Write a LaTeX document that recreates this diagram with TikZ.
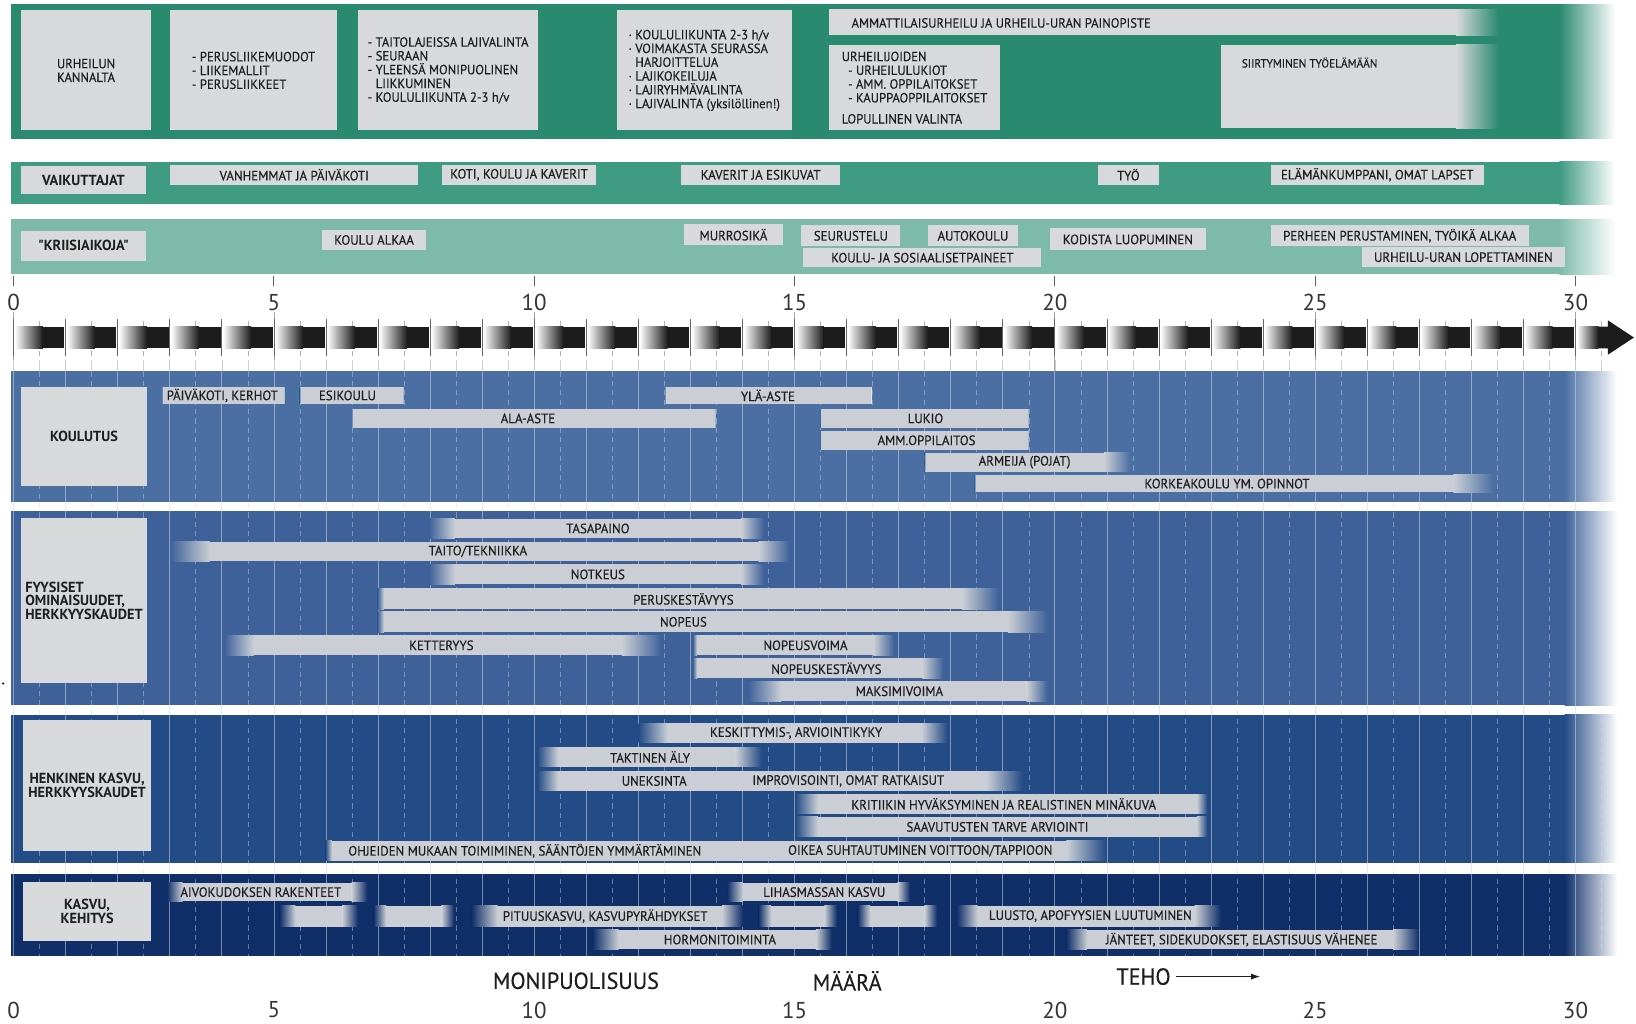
\documentclass[tikz,border=0pt]{standalone}
\usepackage{fontspec}
\setmainfont{PT Sans}
\newfontfamily\cond{PT Sans}[FakeStretch=0.95, FakeBold=0.3]
\newfontfamily\condb{PT Sans}[FakeStretch=0.98]
\usetikzlibrary{arrows.meta}

\definecolor{gTop}{HTML}{2A8A70}
\definecolor{gMid}{HTML}{3F9B81}
\definecolor{gLow}{HTML}{7DBBA8}
\definecolor{bA}{HTML}{4B6FA3}
\definecolor{bB}{HTML}{3E6199}
\definecolor{bC}{HTML}{234B86}
\definecolor{bD}{HTML}{102F69}
\definecolor{boxg}{HTML}{D7D9DA}
\definecolor{barg}{HTML}{CBCFD5}
\definecolor{ink}{HTML}{1E1E1E}
\definecolor{segk}{HTML}{1C1C1C}
\definecolor{gridc}{HTML}{D0D8E6}

% band with a soft fade to white on the right
\newcommand\band[6]{%
  \fill[#1] (#2,#5) rectangle (#3,#6);
  \shade[left color=#1,right color=white] ({#3-0.5},#5) rectangle (#4,#6);}
% grey bar: background colour, x1, fade-in width, x2, fade-out width, y1, y2
\newcommand\fbar[7]{%
  \fill[barg] ({#2+#3-0.5},#6) rectangle ({#4-#5+0.5},#7);
  \shade[left color=#1,right color=barg] (#2,#6) rectangle ({#2+#3},#7);
  \shade[left color=barg,right color=#1] ({#4-#5},#6) rectangle (#4,#7);}

\begin{document}
\begin{tikzpicture}[x=1pt,y=-1pt,
  lbl/.style={inner sep=0pt, text=ink, font=\cond\fontsize{13}{14}\selectfont},
  small/.style={inner sep=0pt, text=ink, font=\cond\fontsize{12.8}{13.2}\selectfont},
  hdr/.style={fill=boxg, inner sep=0pt, text=ink, font=\condb\bfseries\fontsize{14}{13}\selectfont, align=center},
  gbox/.style={fill=boxg, inner sep=0pt, text=ink, font=\cond\fontsize{12.8}{13.2}\selectfont, align=left},
  kbox/.style={fill=boxg, inner sep=0pt, text=ink, font=\cond\fontsize{13}{13}\selectfont},
  num/.style={inner sep=0pt, text=ink!90, font=\fontsize{22}{24}\selectfont},
  word/.style={inner sep=0pt, text=ink, font=\cond\fontsize{22.3}{24}\selectfont},
  gridint/.style={draw=gridc, opacity=0.55, line width=0.7},
  gridhalf/.style={draw=gridc, opacity=0.45, line width=0.6, dash pattern=on 5pt off 4pt},
]
\useasboundingbox (0,0) rectangle (1568,981);
\fill[white] (0,0) rectangle (1568,981);

% ---------- coloured bands ----------
\band{gTop}{11}{1495}{1548}{4}{133}
\band{gMid}{11}{1495}{1548}{155}{196}
\band{gLow}{11}{1495}{1548}{210}{263}
\band{bA}{11}{1500}{1550}{356}{481}
\band{bB}{11}{1500}{1550}{490}{676}
\band{bC}{11}{1500}{1550}{685}{827}
\band{bD}{11}{1500}{1550}{838}{916}

% ---------- top band: sport perspective ----------
\node[gbox, align=center, minimum width=125, minimum height=115] (urheilun) at (82.5,67.5) {URHEILUN\\KANNALTA};
\node[gbox, minimum width=160, minimum height=115] (perus) at (243,67.5)
  {- PERUSLIIKEMUODOT\\- LIIKEMALLIT\\- PERUSLIIKKEET};
\node[gbox, minimum width=173, minimum height=115] (taitolaji) at (429.5,67.5)
  {- TAITOLAJEISSA LAJIVALINTA\\- SEURAAN\\- YLEENSÄ MONIPUOLINEN\\\phantom{- }LIIKKUMINEN\\- KOULULIIKUNTA 2-3 h/v};
\node[gbox, minimum width=168, minimum height=115] (lajivalinta) at (675,67.5)
  {· KOULULIIKUNTA 2-3 h/v\\· VOIMAKASTA SEURASSA\\\phantom{· }HARJOITTELUA\\· LAJIKOKEILUJA\\· LAJIRYHMÄVALINTA\\· LAJIVALINTA (yksilöllinen!)};
\fill[boxg] (795,9) rectangle (1396,34);
\shade[left color=boxg,right color=gTop] (1395.5,9) rectangle (1436,34);
\node[small, anchor=west] (ammatti) at (816,22) {AMMATTILAISURHEILU JA URHEILU-URAN PAINOPISTE};
\node[gbox, minimum width=163, minimum height=82] (urheilijat) at (876.5,84)
  {URHEILIJOIDEN\\\hspace{6pt}- URHEILULUKIOT\\\hspace{6pt}- AMM. OPPILAITOKSET\\\hspace{6pt}- KAUPPAOPPILAITOKSET\\[7pt]LOPULLINEN VALINTA};
\fill[boxg] (1170,43) rectangle (1396,123);
\shade[left color=boxg,right color=gTop] (1395.5,43) rectangle (1436,123);
\node[inner sep=0pt, text=ink, font=\cond\fontsize{11.4}{13}\selectfont, anchor=west] (siirtyminen) at (1190,60) {SIIRTYMINEN TYÖELÄMÄÄN};

% ---------- influencers ----------
\node[hdr, minimum width=120, minimum height=27] (vaikuttajat) at (80,172.5) {VAIKUTTAJAT};
\node[kbox, minimum width=238, minimum height=19] (vanhemmat) at (282,167.5) {VANHEMMAT JA PÄIVÄKOTI};
\node[kbox, minimum width=147, minimum height=19] (koti) at (497.5,167.5) {KOTI, KOULU JA KAVERIT};
\node[kbox, minimum width=152, minimum height=19] (kaverit) at (729,167.5) {KAVERIT JA ESIKUVAT};
\node[kbox, minimum width=59, minimum height=19] (tyo) at (1081.5,167.5) {TYÖ};
\node[kbox, minimum width=204, minimum height=19] (kumppani) at (1320,167.5) {ELÄMÄNKUMPPANI, OMAT LAPSET};

% ---------- crisis periods ----------
\node[hdr, minimum width=120, minimum height=29] (kriisi) at (80,235.5) {"KRIISIAIKOJA"};
\node[kbox, minimum width=99, minimum height=20] (koulualkaa) at (358.5,230) {KOULU ALKAA};
\node[kbox, minimum width=94, minimum height=20] (murrosika) at (703,225) {MURROSIKÄ};
\node[kbox, minimum width=95, minimum height=20] (seurustelu) at (815.5,226) {SEURUSTELU};
\node[kbox, minimum width=87, minimum height=20] (autokoulu) at (932.5,226) {AUTOKOULU};
\node[kbox, minimum width=228, minimum height=18] (paineet) at (884,247) {KOULU- JA SOSIAALISETPAINEET};
\node[kbox, minimum width=150, minimum height=21] (kodista) at (1081,229.5) {KODISTA LUOPUMINEN};
\node[kbox, minimum width=247, minimum height=20] (perhe) at (1341.5,226) {PERHEEN PERUSTAMINEN, TYÖIKÄ ALKAA};
\node[kbox, minimum width=195, minimum height=19] (lopetus) at (1402.5,246.5) {URHEILU-URAN LOPETTAMINEN};

% ---------- age axis ----------
\foreach \i in {0,5,...,30}{
  \pgfmathsetmacro\gx{13+49.9*\i}
  \draw[ink!70, line width=0.9] (\gx,265) -- (\gx,274);
  \draw[gray!70, line width=0.7] (\gx,299) -- (\gx,356);
  \node[num] (top\i) at (\gx,290) {\i};
  \node[num] (bot\i) at (\gx,968) {\i};
}
\foreach \i in {0,...,30}{
  \pgfmathsetmacro\gx{13+49.9*\i}
  \pgfmathsetmacro\hx{13+49.9*\i+24.95}
  \draw[gray!80!black, line width=0.7] (\gx,306) -- (\gx,341);
  \draw[gray!40, line width=0.6] (\gx,345) -- (\gx,356);
  \draw[gray!60, line width=0.6] (\hx,308) -- (\hx,312) (\hx,336) -- (\hx,341);
  \draw[gray!35, line width=0.6] (\hx,345) -- (\hx,356);
}
\foreach \i in {0,...,29}{
  \pgfmathsetmacro\sa{13+49.9*\i+1.2}
  \pgfmathsetmacro\sm{13+49.9*\i+28}
  \pgfmathsetmacro\sb{13+49.9*(\i+1)-1.2}
  \shade[left color=white,right color=segk] (\sa,313) rectangle (\sm,334);
  \fill[segk] ({\sm-0.3},313) rectangle (\sb,334);
}
\shade[left color=white,right color=segk] (1511.2,313) rectangle (1532,334);
\fill[segk] (1531.7,313) -- (1541,313) -- (1541,307) -- (1566,323.5) -- (1541,340) -- (1541,334) -- (1531.7,334) -- cycle;

% ---------- year grid over the lower bands ----------
\foreach \i in {0,...,30}{
  \pgfmathsetmacro\gx{13+49.9*\i}
  \pgfmathsetmacro\hx{13+49.9*\i+24.95}
  \draw[gridint] (\gx,356) -- (\gx,916);
  \draw[gridhalf] (\hx,356) -- (\hx,916);
}

% ---------- education ----------
\node[hdr, minimum width=121, minimum height=95] (koulutus) at (80.5,418.5) {KOULUTUS};
\fbar{bA}{155}{1}{273}{1}{371}{387}
\fbar{bA}{287}{1}{387}{1}{371}{387}
\fbar{bA}{637}{1}{836}{1}{371}{387}
\fbar{bA}{337}{1}{686}{1}{392}{410}
\fbar{bA}{786}{1}{986}{1}{392}{410}
\fbar{bA}{786}{1}{986}{1}{413}{431}
\fbar{bA}{886}{1}{1083}{25}{434}{452}
\fbar{bA}{934}{1}{1431}{38}{455}{472}
\node[lbl] (paivakoti) at (213,379) {PÄIVÄKOTI, KERHOT};
\node[lbl] (esikoulu) at (333,379) {ESIKOULU};
\node[lbl] (ylaaste) at (736,379) {YLÄ-ASTE};
\node[lbl] (alaaste) at (506,401) {ALA-ASTE};
\node[lbl] (lukio) at (887,401) {LUKIO};
\node[lbl] (amm) at (888,422) {AMM.OPPILAITOS};
\node[lbl] (armeija) at (982,443) {ARMEIJA (POJAT)};
\node[lbl] (korkeakoulu) at (1176,463.5) {KORKEAKOULU YM. OPINNOT};

% ---------- physical abilities ----------
\node[hdr, align=left, minimum width=121, minimum height=159] (fyysiset) at (80.5,575.5) {FYYSISET\\OMINAISUUDET,\\HERKKYYSKAUDET};
\fbar{bB}{411}{25}{732}{22}{497}{516}
\fbar{bB}{163}{38}{757}{30}{519}{538}
\fbar{bB}{411}{25}{732}{22}{541}{560}
\fbar{bB}{362}{6}{957}{35}{564}{584}
\fbar{bB}{362}{6}{1004}{38}{586}{606}
\fbar{bB}{215}{28}{634}{38}{609}{628}
\fbar{bB}{664}{4}{857}{20}{609}{628}
\fbar{bB}{664}{4}{904}{20}{631}{650}
\fbar{bB}{717}{32}{1004}{20}{653}{672}
\node[lbl] (tasapaino) at (573,506.5) {TASAPAINO};
\node[lbl] (taito) at (458,528.5) {TAITO/TEKNIIKKA};
\node[lbl] (notkeus) at (573,550.5) {NOTKEUS};
\node[lbl] (peruskest) at (655,574) {PERUSKESTÄVYYS};
\node[lbl] (nopeus) at (655,596) {NOPEUS};
\node[lbl] (ketteryys) at (423,618.5) {KETTERYYS};
\node[lbl] (nopeusvoima) at (772,618.5) {NOPEUSVOIMA};
\node[lbl] (nopeuskest) at (792,640.5) {NOPEUSKESTÄVYYS};
\node[lbl] (maksimivoima) at (862,662.5) {MAKSIMIVOIMA};

% ---------- mental growth ----------
\node[hdr, minimum width=123, minimum height=126] (henkinen) at (83.5,753) {HENKINEN KASVU,\\HERKKYYSKAUDET};
\fbar{bC}{612}{28}{908}{25}{693}{712}
\fbar{bC}{515}{20}{730}{25}{716}{735}
\fbar{bC}{515}{20}{980}{35}{739}{758}
\fbar{bC}{762}{22}{1157}{10}{761}{780}
\fbar{bC}{762}{22}{1157}{10}{783}{802}
\fbar{bC}{312}{6}{1060}{38}{806}{825}
\node[lbl] (keskittyminen) at (763,702.5) {KESKITTYMIS-, ARVIOINTIKYKY};
\node[lbl] (taktinen) at (623,725.5) {TAKTINEN ÄLY};
\node[lbl] (uneksinta) at (627,748.5) {UNEKSINTA};
\node[lbl] (improvisointi) at (813,748.5) {IMPROVISOINTI, OMAT RATKAISUT};
\node[lbl] (kritiikki) at (962,770.5) {KRITIIKIN HYVÄKSYMINEN JA REALISTINEN MINÄKUVA};
\node[lbl] (saavutukset) at (956,792.5) {SAAVUTUSTEN TARVE ARVIOINTI};
\node[lbl] (ohjeet) at (503,815.5) {OHJEIDEN MUKAAN TOIMIMINEN, SÄÄNTÖJEN YMMÄRTÄMINEN};
\node[lbl] (voitto) at (882,815.5) {OIKEA SUHTAUTUMINEN VOITTOON/TAPPIOON};

% ---------- growth and development ----------
\node[hdr, minimum width=123, minimum height=57] (kasvu) at (83.5,873.5) {KASVU,\\KEHITYS};
\fbar{bD}{160}{15}{352}{15}{846}{864}
\fbar{bD}{697}{15}{872}{12}{846}{864}
\fbar{bD}{268}{15}{343}{15}{868}{888}
\fbar{bD}{358}{12}{435}{12}{868}{888}
\fbar{bD}{452}{25}{712}{20}{868}{888}
\fbar{bD}{727}{12}{802}{12}{868}{888}
\fbar{bD}{822}{12}{898}{12}{868}{888}
\fbar{bD}{917}{20}{1170}{25}{868}{888}
\fbar{bD}{568}{25}{797}{15}{891}{910}
\fbar{bD}{1022}{20}{1360}{25}{891}{910}
\node[lbl] (aivokudos) at (250,855) {AIVOKUDOKSEN RAKENTEET};
\node[lbl] (lihasmassa) at (790,855) {LIHASMASSAN KASVU};
\node[lbl] (pituuskasvu) at (580,878) {PITUUSKASVU, KASVUPYRÄHDYKSET};
\node[lbl] (luusto) at (1045,878) {LUUSTO, APOFYYSIEN LUUTUMINEN};
\node[lbl] (hormonit) at (690,900.5) {HORMONITOIMINTA};
\node[lbl] (janteet) at (1190,900.5) {JÄNTEET, SIDEKUDOKSET, ELASTISUUS VÄHENEE};

% ---------- training emphasis ----------
\node[word] (monipuolisuus) at (552,940) {MONIPUOLISUUS};
\node[word] (maara) at (812,940) {MÄÄRÄ};
\node[word] (teho) at (1096,936) {TEHO};
\coordinate (tehoend) at (1208,936);
\draw[ink, line width=1.3, -{Latex[length=9pt,width=6pt]}] ([xshift=5pt]teho.east) -- (tehoend);

\fill[ink] (3,655) circle (1.2);
\end{tikzpicture}
\end{document}
